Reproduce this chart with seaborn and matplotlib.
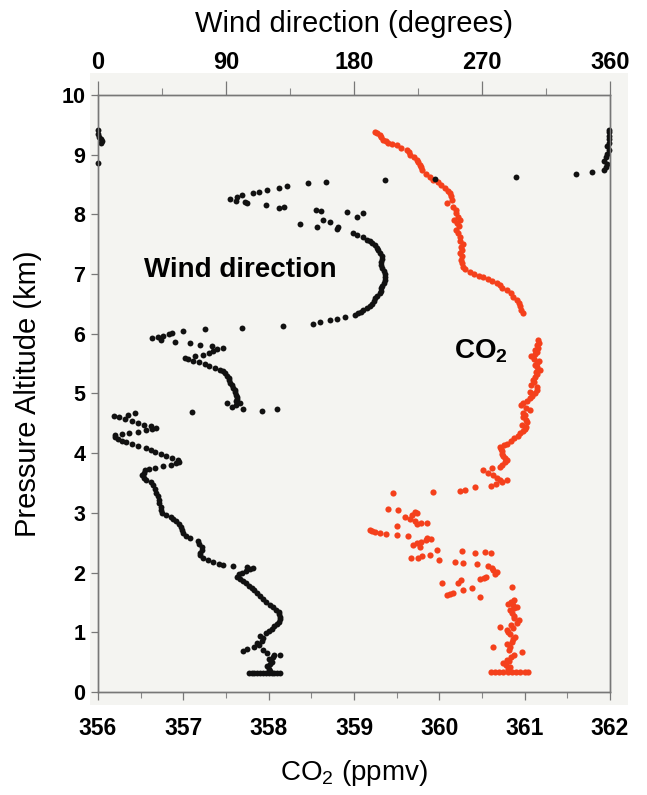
import matplotlib
matplotlib.use("Agg")
import matplotlib.pyplot as plt
from matplotlib.patches import Rectangle
from matplotlib.ticker import MultipleLocator
import pandas as pd
import seaborn as sns

# Wind direction (altitude km, degrees)
wind_lower = [
    (0.31, 106), (0.31, 108), (0.31, 110), (0.31, 112), (0.31, 114), (0.31, 116),
    (0.31, 118), (0.31, 120), (0.31, 122), (0.31, 124), (0.31, 126), (0.31, 128),
    (0.35, 121), (0.39, 120), (0.43, 119), (0.47, 121), (0.51, 122), (0.55, 120),
    (0.58, 123), (0.62, 128), (0.62, 124), (0.66, 119), (0.68, 102), (0.70, 116),
    (0.72, 105), (0.75, 110), (0.78, 113), (0.82, 112), (0.86, 115), (0.90, 116),
    (0.94, 114), (0.98, 118), (1.02, 120), (1.06, 122), (1.10, 124), (1.14, 126),
    (1.18, 127), (1.22, 128), (1.26, 128), (1.30, 127), (1.34, 127), (1.38, 125),
    (1.42, 123), (1.46, 121), (1.50, 118), (1.55, 116), (1.60, 114), (1.65, 112),
    (1.70, 110), (1.74, 108), (1.78, 106), (1.82, 104), (1.86, 102), (1.90, 100),
    (1.93, 98), (1.97, 99), (2.00, 101), (2.03, 104), (2.06, 107), (2.08, 109),
    (2.09, 105), (2.11, 95), (2.13, 88), (2.15, 85), (2.18, 81), (2.21, 77),
    (2.25, 74), (2.29, 72), (2.33, 72), (2.38, 73), (2.43, 73), (2.48, 71),
    (2.53, 70), (2.58, 65), (2.62, 62), (2.66, 60), (2.71, 59), (2.76, 58),
    (2.82, 57), (2.86, 55), (2.90, 53), (2.93, 51), (2.96, 48), (3.00, 45),
    (3.05, 44), (3.10, 44), (3.16, 43), (3.22, 43), (3.28, 42), (3.34, 41),
    (3.40, 40), (3.46, 39), (3.51, 37), (3.55, 34), (3.59, 32), (3.63, 31),
    (3.67, 32), (3.71, 33), (3.74, 36), (3.76, 40), (3.78, 46), (3.80, 51),
    (3.83, 55), (3.86, 57), (3.89, 56), (3.92, 52), (3.95, 48), (3.98, 44),
    (4.02, 40), (4.05, 37), (4.09, 34), (4.12, 28), (4.15, 24), (4.18, 20),
    (4.21, 17), (4.24, 14), (4.27, 12), (4.30, 12), (4.32, 17), (4.34, 22),
    (4.36, 28), (4.38, 34), (4.40, 38), (4.42, 41), (4.45, 37), (4.48, 32),
    (4.51, 28), (4.54, 24), (4.57, 19), (4.60, 15), (4.62, 11), (4.64, 21),
    (4.67, 26), (4.69, 66),
]

wind_middle = [
    (4.71, 115), (4.74, 102), (4.74, 126), (4.77, 94), (4.80, 97), (4.84, 91),
    (4.84, 100), (4.88, 97), (4.91, 98), (4.94, 98), (4.98, 97), (5.02, 96),
    (5.06, 96), (5.10, 95), (5.14, 94), (5.18, 93), (5.22, 92), (5.26, 92),
    (5.30, 91), (5.34, 89), (5.37, 88), (5.40, 86), (5.43, 82), (5.46, 78),
    (5.49, 75), (5.52, 71), (5.55, 67), (5.57, 63), (5.59, 61), (5.62, 68),
    (5.65, 74), (5.68, 78), (5.71, 81), (5.74, 84), (5.77, 88), (5.80, 80),
    (5.82, 72), (5.84, 65), (5.86, 54), (5.90, 44), (5.93, 38), (5.94, 42),
    (5.97, 46), (5.99, 50), (6.01, 52), (6.05, 60), (6.08, 75),
]

wind_upper = [
    (6.10, 101), (6.13, 130), (6.16, 151), (6.20, 156), (6.23, 163), (6.25, 168),
    (6.28, 174), (6.31, 181), (6.34, 183), (6.37, 185), (6.40, 186), (6.44, 189),
    (6.47, 191), (6.50, 193), (6.55, 194), (6.60, 195), (6.64, 196), (6.68, 198),
    (6.72, 199), (6.76, 199), (6.80, 200), (6.85, 201), (6.90, 202), (6.95, 202),
    (7.00, 202), (7.05, 201), (7.10, 200), (7.15, 199), (7.20, 199), (7.25, 200),
    (7.30, 200), (7.35, 198), (7.40, 197), (7.44, 196), (7.48, 195), (7.52, 193),
    (7.55, 191), (7.57, 189), (7.62, 186), (7.66, 182), (7.69, 179), (7.76, 168),
    (7.79, 169), (7.79, 154), (7.84, 142), (7.87, 163), (7.90, 158), (7.96, 182),
    (8.02, 186), (8.04, 175), (8.05, 157), (8.07, 153), (8.11, 127), (8.12, 131),
    (8.16, 118), (8.19, 105), (8.21, 103), (8.23, 97), (8.26, 93), (8.29, 98),
    (8.32, 101), (8.36, 109), (8.38, 113), (8.41, 119), (8.44, 127), (8.48, 133),
    (8.52, 148), (8.54, 160), (8.58, 202), (8.60, 237), (8.63, 294), (8.68, 336),
    (8.71, 347),
]

wind_top = [
    (8.86, 0), (9.20, 2), (9.23, 3), (9.27, 2), (9.30, 1), (9.35, 0), (9.41, 0),
    (8.75, 356), (8.80, 357), (8.84, 358), (8.90, 356), (8.96, 357), (9.02, 358),
    (9.08, 359), (9.14, 358), (9.20, 359), (9.26, 359), (9.32, 359), (9.38, 359),
    (9.42, 359),
]

# CO2 (altitude km, ppmv)
co2_lower = [
    (0.33, 360.60), (0.33, 360.65), (0.33, 360.70), (0.33, 360.75), (0.33, 360.80),
    (0.33, 360.85), (0.33, 360.90), (0.33, 360.95), (0.33, 361.00), (0.33, 361.04),
    (0.38, 360.80), (0.42, 360.83), (0.46, 360.78), (0.49, 360.75), (0.52, 360.82),
    (0.54, 360.79), (0.58, 360.84), (0.62, 360.88), (0.67, 360.97), (0.70, 360.82),
    (0.75, 360.63), (0.75, 360.83), (0.80, 360.79), (0.84, 360.85), (0.88, 360.86),
    (0.92, 360.89), (0.97, 360.83), (1.00, 360.80), (1.03, 360.79), (1.07, 360.86),
    (1.09, 360.71), (1.13, 360.84), (1.16, 360.91), (1.20, 360.93), (1.24, 360.88),
    (1.28, 360.87), (1.32, 360.85), (1.37, 360.83), (1.40, 360.88), (1.43, 360.91),
    (1.46, 360.86), (1.48, 360.81), (1.51, 360.84), (1.54, 360.87), (1.59, 360.48),
    (1.62, 360.09), (1.64, 360.12), (1.66, 360.16), (1.71, 360.28), (1.74, 360.38),
    (1.76, 360.85), (1.83, 360.03), (1.83, 360.22), (1.88, 360.25), (1.89, 360.48),
    (1.91, 360.52), (1.93, 360.55), (1.98, 360.65), (2.01, 360.67), (2.04, 360.63),
    (2.07, 360.62), (2.11, 360.57), (2.14, 360.44), (2.16, 360.28), (2.18, 360.18),
    (2.21, 360.00), (2.24, 359.75), (2.24, 359.67), (2.27, 359.80), (2.30, 359.89),
    (2.33, 360.42), (2.33, 360.60), (2.35, 360.54), (2.36, 360.26), (2.38, 359.97),
    (2.43, 359.77), (2.46, 359.69), (2.49, 359.74), (2.52, 359.78), (2.55, 359.84),
    (2.56, 359.90), (2.58, 359.86), (2.61, 359.63), (2.63, 359.50), (2.65, 359.38),
    (2.67, 359.30), (2.68, 359.25), (2.70, 359.21), (2.71, 359.19), (2.78, 359.50),
    (2.81, 359.74), (2.83, 359.78), (2.83, 359.86), (2.87, 359.72), (2.90, 359.66),
    (2.93, 359.60), (2.97, 359.68), (3.00, 359.74), (3.02, 359.72), (3.05, 359.52),
    (3.07, 359.40), (3.33, 359.46), (3.35, 359.93),
]

co2_middle = [
    (3.37, 360.24), (3.39, 360.30), (3.43, 360.42), (3.45, 360.60), (3.48, 360.66),
    (3.52, 360.73), (3.55, 360.71), (3.55, 360.79), (3.59, 360.68), (3.63, 360.63),
    (3.67, 360.57), (3.72, 360.51), (3.75, 360.62), (3.77, 360.71), (3.81, 360.74),
    (3.85, 360.77), (3.89, 360.79), (3.92, 360.77), (3.95, 360.75), (3.99, 360.73),
    (4.03, 360.74), (4.07, 360.72), (4.10, 360.71), (4.13, 360.76), (4.16, 360.79),
    (4.20, 360.84), (4.25, 360.87), (4.29, 360.92), (4.33, 360.95), (4.37, 360.98),
    (4.41, 361.00), (4.44, 361.01), (4.48, 360.97), (4.52, 361.03), (4.55, 361.02),
    (4.60, 360.98), (4.64, 361.00), (4.67, 360.98), (4.72, 361.06), (4.76, 361.01),
    (4.80, 360.96), (4.84, 360.98), (4.88, 361.03), (4.92, 361.06), (4.96, 361.09),
    (5.00, 361.12), (5.03, 361.06), (5.06, 361.14), (5.11, 361.14), (5.15, 361.08),
    (5.19, 361.11), (5.23, 361.10), (5.28, 361.12), (5.32, 361.15), (5.36, 361.13),
    (5.40, 361.18), (5.44, 361.15), (5.48, 361.12), (5.51, 361.14), (5.55, 361.17),
    (5.58, 361.11), (5.62, 361.08), (5.66, 361.12), (5.70, 361.15), (5.73, 361.12),
    (5.77, 361.16), (5.81, 361.14), (5.85, 361.17), (5.90, 361.16),
]

co2_upper = [
    (6.35, 360.98), (6.40, 360.96), (6.46, 360.95), (6.52, 360.93), (6.57, 360.91),
    (6.62, 360.86), (6.68, 360.84), (6.73, 360.79), (6.77, 360.74), (6.81, 360.71),
    (6.85, 360.67), (6.88, 360.62), (6.91, 360.57), (6.95, 360.51), (6.97, 360.46),
    (7.00, 360.41), (7.04, 360.36), (7.08, 360.30), (7.12, 360.28), (7.19, 360.27),
    (7.24, 360.25), (7.30, 360.26), (7.35, 360.24), (7.40, 360.27), (7.45, 360.25),
    (7.51, 360.28), (7.56, 360.24), (7.62, 360.24), (7.68, 360.22), (7.74, 360.20),
    (7.80, 360.23), (7.86, 360.21), (7.90, 360.17), (7.90, 360.24), (7.96, 360.22),
    (8.02, 360.19), (8.07, 360.20), (8.12, 360.16), (8.19, 360.09), (8.24, 360.15),
    (8.30, 360.14), (8.36, 360.13), (8.40, 360.10), (8.44, 360.07), (8.49, 360.02),
    (8.54, 359.98), (8.58, 359.93), (8.63, 359.89), (8.68, 359.84), (8.74, 359.80),
    (8.79, 359.78), (8.83, 359.77), (8.87, 359.75), (8.91, 359.74), (8.96, 359.70),
    (9.00, 359.66), (9.04, 359.64), (9.08, 359.62), (9.12, 359.55), (9.16, 359.50),
    (9.18, 359.45), (9.20, 359.40), (9.23, 359.37), (9.25, 359.34), (9.29, 359.32),
    (9.33, 359.30), (9.36, 359.27), (9.38, 359.25),
]

co2_ticks = [356, 357, 358, 359, 360, 361, 362]
wind_ticks = [0, 90, 180, 270, 360]
alt_ticks = list(range(0, 11))

sns.set_style("white")
plt.rcParams["font.family"] = ["Liberation Sans", "DejaVu Sans"]
plt.rcParams["mathtext.default"] = "regular"
plt.rcParams["text.color"] = "black"
plt.rcParams["axes.labelcolor"] = "black"
plt.rcParams["xtick.labelcolor"] = "black"
plt.rcParams["ytick.labelcolor"] = "black"

wind_df = pd.DataFrame(wind_lower + wind_middle + wind_upper + wind_top, columns=["alt", "deg"])
co2_df = pd.DataFrame(co2_lower + co2_middle + co2_upper, columns=["alt", "ppmv"])

fig = plt.figure(figsize=(6.47, 7.95), dpi=100)
# light grey card behind the plot, like the scanned original
fig.patches.append(Rectangle((0.139, 0.113), 0.832, 0.795, transform=fig.transFigure,
                             facecolor="#f4f4f1", edgecolor="none", zorder=-5))
ax = fig.add_axes([0.1515, 0.1296, 0.7913, 0.7509])
ax.patch.set_alpha(0)

sns.scatterplot(data=co2_df, x="ppmv", y="alt", ax=ax, color="#f4401c",
                s=20, linewidth=0, clip_on=False)
ax2 = ax.twiny()
sns.scatterplot(data=wind_df, x="deg", y="alt", ax=ax2, color="#111111",
                s=18, linewidth=0, clip_on=False)

ax.set_xlim(356, 362)
ax.set_ylim(0, 10)
ax2.set_xlim(0, 360)

ax.set_xticks(co2_ticks)
ax.set_xticklabels([str(t) for t in co2_ticks])
ax.xaxis.set_minor_locator(MultipleLocator(0.5))
ax.set_yticks(alt_ticks)
ax2.set_xticks(wind_ticks)
ax2.xaxis.set_minor_locator(MultipleLocator(45))

for a in (ax, ax2):
    for sp in a.spines.values():
        sp.set_color("#777777")
        sp.set_linewidth(1.0)

ax.tick_params(axis="x", which="major", direction="out", length=6, width=0.9,
               color="#777777", pad=12, labelsize=16.5, bottom=True)
ax.tick_params(axis="x", which="minor", direction="out", length=4, width=0.8,
               color="#888888", bottom=True)
ax.tick_params(axis="y", which="major", direction="out", length=5, width=0.9,
               color="#777777", pad=4, labelsize=15.5, left=True, right=False)
ax2.tick_params(axis="x", which="major", direction="out", length=10, width=0.9,
                color="#777777", pad=5, labelsize=17, top=True)
ax2.tick_params(axis="x", which="minor", direction="out", length=5, width=0.8,
                color="#888888", top=True)
for lab in ax.get_xticklabels() + ax.get_yticklabels() + ax2.get_xticklabels():
    lab.set_fontweight("bold")

ax.set_xlabel("CO$_2$ (ppmv)", fontsize=20, labelpad=13)
ax.set_ylabel("Pressure Altitude (km)", fontsize=21, labelpad=14)
ax2.set_xlabel("Wind direction (degrees)", fontsize=21, labelpad=14)

ax2.text(100, 7.07, "Wind direction", fontsize=20, fontweight="bold",
         ha="center", va="center")
ax.text(360.49, 5.7, "CO$_2$", fontsize=20, fontweight="bold",
        ha="center", va="center")

fig.savefig("out.png", dpi=100)
